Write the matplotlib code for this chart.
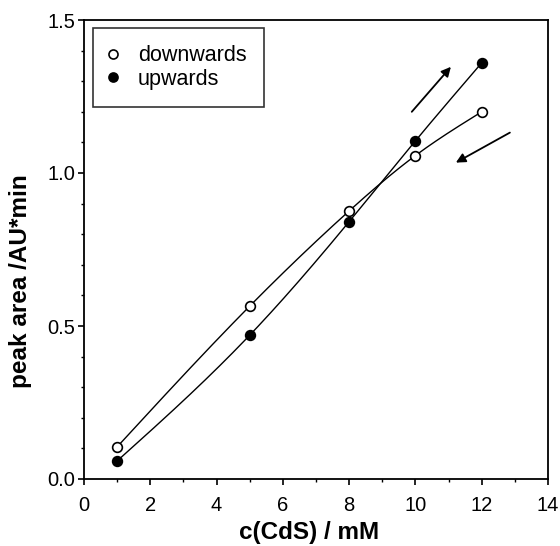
import numpy as np
import matplotlib
matplotlib.use("Agg")
import matplotlib.pyplot as plt
from matplotlib.lines import Line2D
from matplotlib.ticker import MultipleLocator, FormatStrFormatter

plt.rcParams['font.family'] = ['Liberation Sans', 'DejaVu Sans']

conc = [1, 5, 8, 10, 12]
downwards = [0.105, 0.565, 0.876, 1.057, 1.20]
upwards = [0.059, 0.47, 0.841, 1.105, 1.36]


def natural_spline(x, y, n=200):
    x = np.asarray(x, float)
    y = np.asarray(y, float)
    k = len(x)
    h = np.diff(x)
    A = np.zeros((k, k))
    b = np.zeros(k)
    A[0, 0] = 1
    A[-1, -1] = 1
    for i in range(1, k - 1):
        A[i, i - 1] = h[i - 1]
        A[i, i] = 2 * (h[i - 1] + h[i])
        A[i, i + 1] = h[i]
        b[i] = 3 * ((y[i + 1] - y[i]) / h[i] - (y[i] - y[i - 1]) / h[i - 1])
    c = np.linalg.solve(A, b)
    xs = np.linspace(x[0], x[-1], n)
    ys = np.empty_like(xs)
    for j, xv in enumerate(xs):
        i = min(np.searchsorted(x, xv, side='right') - 1, k - 2)
        bi = (y[i + 1] - y[i]) / h[i] - h[i] * (2 * c[i] + c[i + 1]) / 3
        di = (c[i + 1] - c[i]) / (3 * h[i])
        dx = xv - x[i]
        ys[j] = y[i] + bi * dx + c[i] * dx ** 2 + di * dx ** 3
    return xs, ys


fig = plt.figure(figsize=(5.6, 5.46), dpi=100)
ax = fig.add_axes([84 / 560, 1 - 479 / 546, 464 / 560, 459 / 546])

for ys, fc in [(downwards, 'white'), (upwards, 'black')]:
    sx, sy = natural_spline(conc, ys)
    ax.plot(sx, sy, color='black', lw=1.0, zorder=2)
    ax.plot(conc, ys, linestyle='none', marker='o', ms=7,
            mfc=fc, mec='black', mew=1.2, zorder=3)

ax.annotate('', xy=(11.07, 1.347), xytext=(9.89, 1.20),
            arrowprops=dict(arrowstyle='-|>', color='black', lw=1.3,
                            mutation_scale=14, shrinkA=0, shrinkB=0))
ax.annotate('', xy=(11.22, 1.034), xytext=(12.85, 1.132),
            arrowprops=dict(arrowstyle='-|>', color='black', lw=1.3,
                            mutation_scale=14, shrinkA=0, shrinkB=0))

ax.set_xlim(0, 14)
ax.set_ylim(0, 1.5)
ax.xaxis.set_major_locator(MultipleLocator(2))
ax.xaxis.set_minor_locator(MultipleLocator(1))
ax.yaxis.set_major_locator(MultipleLocator(0.5))
ax.yaxis.set_minor_locator(MultipleLocator(0.1))
ax.yaxis.set_major_formatter(FormatStrFormatter('%.1f'))
ax.tick_params(which='major', direction='out', length=4, width=1.2,
               labelsize=14.5)
ax.tick_params(which='minor', direction='out', length=2.5, width=1)
ax.tick_params(axis='x', which='major', pad=8)
ax.tick_params(axis='y', which='major', pad=2.5)
for s in ax.spines.values():
    s.set_linewidth(1.3)

ax.set_xlabel('c(CdS) / mM', fontsize=17.5, fontweight='bold')
ax.set_ylabel('peak area /AU*min', fontsize=17.5, fontweight='bold')
ax.xaxis.set_label_coords(0.485, -0.092)
ax.yaxis.set_label_coords(-0.112, 0.431)

handles = [
    Line2D([], [], linestyle='none', marker='o', ms=6.5, mfc='white', mec='black', mew=1.2),
    Line2D([], [], linestyle='none', marker='o', ms=6.5, mfc='black', mec='black', mew=1.2),
]
leg = ax.legend(handles, ['downwards', 'upwards'], loc='upper left',
                bbox_to_anchor=(9 / 464, 1 - 8 / 459), borderaxespad=0,
                fontsize=15.5, frameon=True, fancybox=False, edgecolor='black',
                handlelength=0.23, handletextpad=1.05, borderpad=0.81,
                labelspacing=0.1)
leg.get_frame().set_linewidth(1.2)

fig.savefig('out.png', dpi=100)
